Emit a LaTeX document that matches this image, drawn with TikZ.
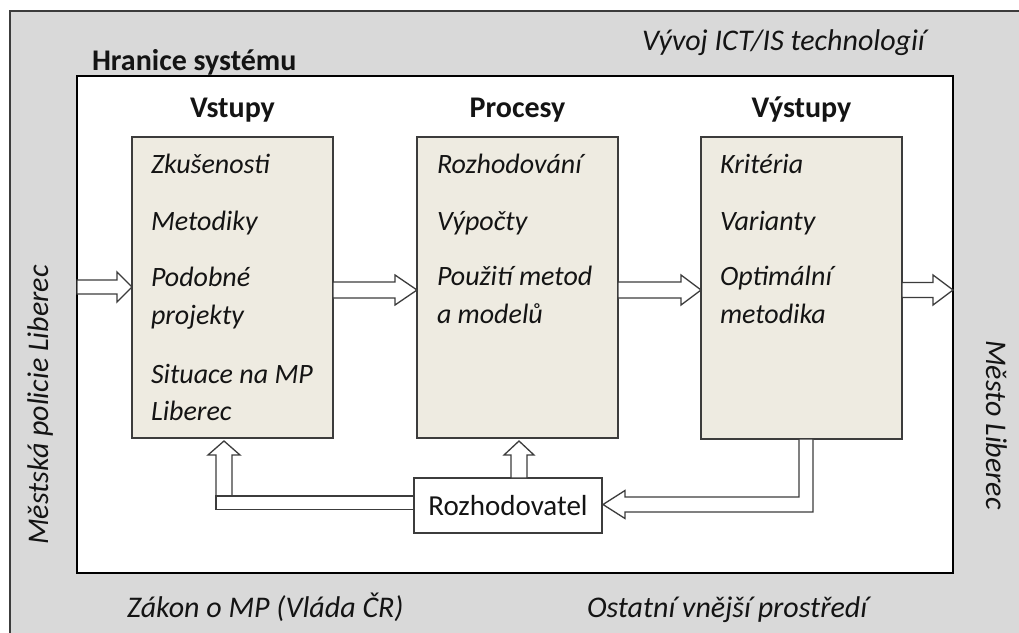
\documentclass[tikz,border=0pt]{standalone}
\usepackage{fontspec}
\setmainfont{Carlito}
\usetikzlibrary{calc}
\definecolor{envgray}{HTML}{D9D9D9}
\definecolor{boxfill}{HTML}{EEEBE1}
\definecolor{edge}{HTML}{3C3C3C}
\definecolor{ink}{HTML}{141414}
\newcommand\labelsize{\fontsize{30}{36}\selectfont}
\newcommand\itemsize{\fontsize{28}{34}\selectfont}

% hollow block arrow pointing right: start, tip, shaft half-width, head half-width, head length
\newcommand\rightblock[5]{%
  \draw[hollow] ($(#1)+(0,-#3)$) -- ($(#2)+(-#5,-#3)$) -- ($(#2)+(-#5,-#4)$) -- (#2)
    -- ($(#2)+(-#5,#4)$) -- ($(#2)+(-#5,#3)$) -- ($(#1)+(0,#3)$) -- cycle;}
% hollow block arrow pointing up: start, tip, shaft half-width, head half-width, head length
\newcommand\upblock[5]{%
  \draw[hollow] ($(#1)+(-#3,0)$) -- ($(#2)+(-#3,#5)$) -- ($(#2)+(-#4,#5)$) -- (#2)
    -- ($(#2)+(#4,#5)$) -- ($(#2)+(#3,#5)$) -- ($(#1)+(#3,0)$) -- cycle;}

\begin{document}
\begin{tikzpicture}[x=1pt,y=-1pt,
  every node/.style={inner sep=0pt, outer sep=0pt, text=ink},
  txt/.style={font=\labelsize\itshape, anchor=base west},
  item/.style={font=\itemsize\itshape, anchor=base west},
  head/.style={font=\labelsize\bfseries, anchor=base},
  block/.style={draw=edge, line width=1.4pt, fill=boxfill, anchor=north west,
    minimum width=201pt, minimum height=301pt},
  hollow/.style={draw=edge, line width=1.3pt, fill=white, line join=miter},
]
\useasboundingbox (0,0) rectangle (1019,632);

% surroundings
\fill[envgray, draw=edge, line width=1.5pt] (10,11) rectangle (1050,660);
\node[font=\labelsize\bfseries, anchor=base west] (bound) at (92,70) {Hranice systému};
\node[draw=black, line width=1.4pt, fill=white, anchor=north west,
  minimum width=876pt, minimum height=497pt] (sys) at (77,76) {};

\node[txt] (env1) at (642,50) {Vývoj ICT/IS technologií};
\node[txt] (env2) at (127,617) {Zákon o MP (Vláda ČR)};
\node[txt] (env3) at (587,617) {Ostatní vnější prostředí};
\node[font=\labelsize\itshape, anchor=base, rotate=90] (env4) at (48,405) {Městská policie Liberec};
\node[font=\labelsize\itshape, anchor=base, rotate=-90] (env5) at (986,425) {Město Liberec};

% the three stages
\node[block] (inp) at (132,137) {};
\node[block] (proc) at (417,137) {};
\node[block, minimum height=302pt] (outp) at (701,137) {};

\node[head] (hin) at ($(inp.north)+(0,-20)$) {Vstupy};
\node[head] (hproc) at ($(proc.north)+(0,-20)$) {Procesy};
\node[head] (hout) at ($(outp.north)+(0,-20)$) {Výstupy};

% decision maker
\node[draw=edge, line width=1.4pt, fill=white, anchor=north west,
  minimum width=188pt, minimum height=55pt, font=\fontsize{29}{35}\selectfont] (rz) at (414,478) {Rozhodovatel};

% main flow
\coordinate (ax1) at (0,287);
\coordinate (ax2) at (0,290);
\coordinate (a1s) at (sys.west |- ax1);
\coordinate (a1t) at (inp.west |- ax1);
\coordinate (a2s) at (inp.east |- ax2);
\coordinate (a2t) at (proc.west |- ax2);
\coordinate (a3s) at (proc.east |- ax2);
\coordinate (a3t) at (outp.west |- ax2);
\coordinate (a4s) at (outp.east |- ax2);
\coordinate (a4t) at (sys.east |- ax2);
\rightblock{a1s}{a1t}{7}{15}{15}
\rightblock{a2s}{a2t}{8}{15}{22}
\rightblock{a3s}{a3t}{8}{15}{20}
\rightblock{a4s}{a4t}{7.5}{15}{20}

% feedback from the outputs to the decision maker
\coordinate (fa) at ($(outp.south)+(4.5,0)$);
\coordinate (ft) at ($(rz.east)+(1,-1)$);
\coordinate (fc) at (fa |- ft);
\draw[hollow] ($(fa)+(-7,0)$) -- ($(fc)+(-7,-7.5)$) -- ($(ft)+(22,-7.5)$) -- ($(ft)+(22,-14)$)
  -- (ft) -- ($(ft)+(22,14)$) -- ($(ft)+(22,7.5)$) -- ($(fc)+(7,7.5)$) -- ($(fa)+(7,0)$) -- cycle;

% decisions back to processes and inputs
\coordinate (u2s) at ($(rz.north)+(11,0)$);
\coordinate (u2t) at ($(u2s |- proc.south)+(0,3)$);
\upblock{u2s}{u2t}{8}{15}{14}
\coordinate (u1s) at (224,496);
\coordinate (u1t) at ($(u1s |- inp.south)+(0,3)$);
\upblock{u1s}{u1t}{8}{16}{14}
\draw[hollow] (216,496) rectangle (rz.west |- 0,509.5);

% inputs
\node[item] (i1) at ($(inp.north west)+(19,36)$) {Zkušenosti};
\node[item] (i2) at ($(inp.north west)+(19,93)$) {Metodiky};
\node[item] (i3) at ($(inp.north west)+(19,149)$) {Podobné};
\node[item] (i4) at ($(inp.north west)+(19,187)$) {projekty};
\node[item] (i5) at ($(inp.north west)+(19,246)$) {Situace na MP};
\node[item] (i6) at ($(inp.north west)+(19,283)$) {Liberec};
% processes
\node[item] (p1) at ($(proc.north west)+(20,36)$) {Rozhodování};
\node[item] (p2) at ($(proc.north west)+(20,93)$) {Výpočty};
\node[item] (p3) at ($(proc.north west)+(20,148)$) {Použití metod};
\node[item] (p4) at ($(proc.north west)+(20,186)$) {a modelů};
% outputs
\node[item] (o1) at ($(outp.north west)+(19,36)$) {Kritéria};
\node[item] (o2) at ($(outp.north west)+(19,93)$) {Varianty};
\node[item] (o3) at ($(outp.north west)+(19,148)$) {Optimální};
\node[item] (o4) at ($(outp.north west)+(19,186)$) {metodika};
\end{tikzpicture}
\end{document}
